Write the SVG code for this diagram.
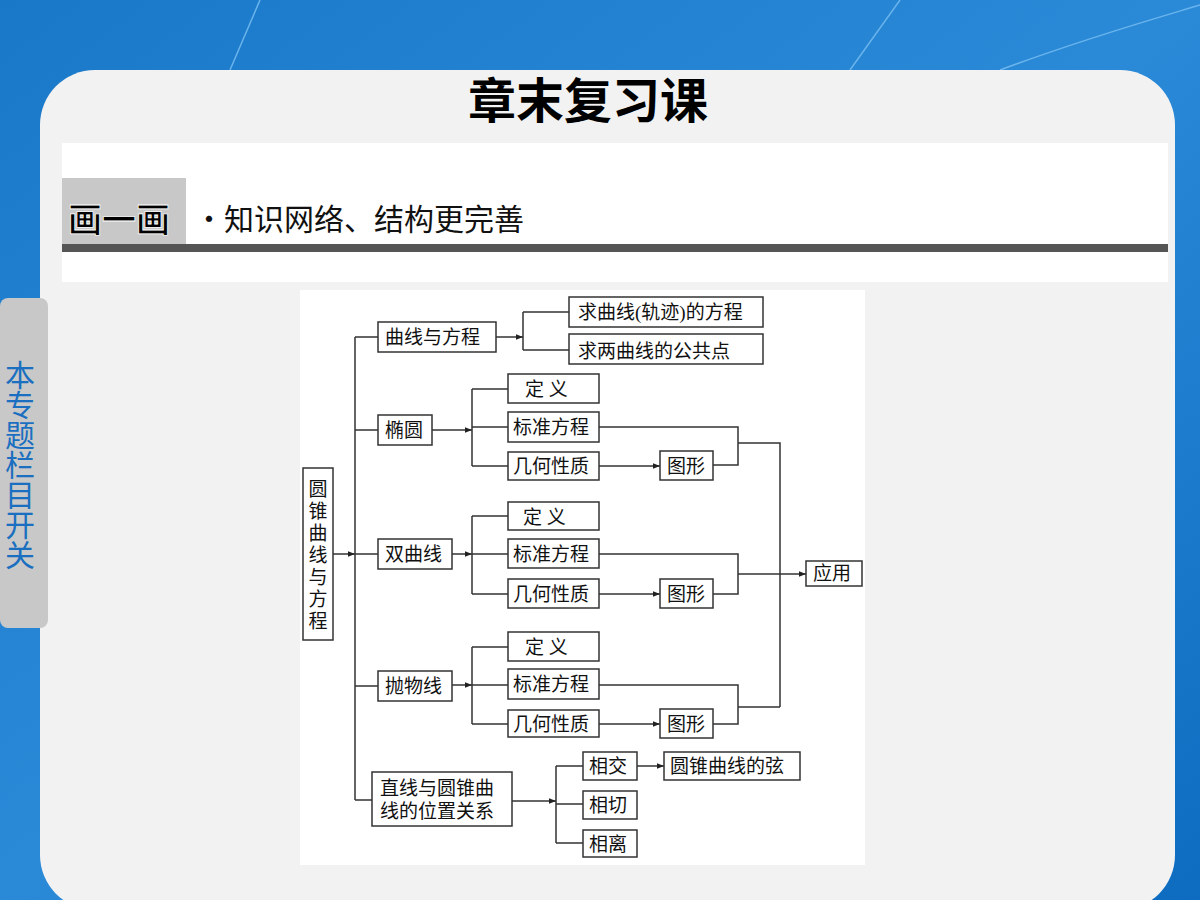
<svg xmlns="http://www.w3.org/2000/svg" width="1200" height="900" viewBox="0 0 1200 900">
<defs>
<linearGradient id="bg" x1="0" y1="0" x2="1" y2="1"><stop offset="0" stop-color="#1a78c8"/><stop offset="0.5" stop-color="#2a8ad8"/><stop offset="1" stop-color="#0e6cc0"/></linearGradient>
<marker id="ar" viewBox="0 0 10 10" refX="10" refY="5" markerWidth="7" markerHeight="7" orient="auto" markerUnits="userSpaceOnUse"><path d="M0,1 L10,5 L0,9 Z" fill="#222"/></marker>
</defs>
<style>
.b{fill:#fff;stroke:#333;stroke-width:1.5}
.t{font-family:"Liberation Serif","Noto Sans CJK SC",serif;font-size:19px;fill:#111}
.c{fill:none;stroke:#333;stroke-width:1.5}
.a{marker-end:url(#ar)}
</style>
<rect width="1200" height="900" fill="url(#bg)"/>
<path d="M260,0 L230,70 M900,0 L850,70 M1000,70 C1080,40 1150,20 1200,5" stroke="#6ab4ec" stroke-width="1.5" fill="none"/>
<rect x="40" y="70" width="1135" height="840" rx="55" fill="#f2f2f2"/>
<text x="588" y="118" text-anchor="middle" font-family="Noto Sans CJK SC,sans-serif" font-weight="bold" font-size="48" fill="#000">章末复习课</text>
<rect x="62" y="143" width="1106" height="139" fill="#fff"/>
<rect x="62" y="178" width="124" height="66" fill="#c8c8c8"/>
<text x="68" y="232" font-family="Noto Sans CJK SC,sans-serif" font-weight="bold" font-size="34" fill="#000" stroke="#fff" stroke-width="0.8">画一画</text>
<text x="194" y="230" font-family="Noto Sans CJK SC,sans-serif" font-size="30" fill="#111">·知识网络、结构更完善</text>
<rect x="62" y="244" width="1106" height="8" fill="#555"/>
<rect x="0" y="298" width="48" height="330" rx="8" fill="#c8c8c8"/>
<text x="20" y="360" writing-mode="tb" font-family="Noto Sans CJK SC,sans-serif" font-size="30" fill="#1a6fc0">本专题栏目开关</text>
<rect x="300" y="290" width="565" height="575" fill="#fff"/>

<g id="connectors">
<path class="c a" d="M333,554 H355"/>
<path class="c" d="M355,337 V800 M355,337 H378 M355,430 H378 M355,554 H378 M355,686 H378 M355,800 H372"/>
<path class="c a" d="M496,337 H523"/>
<path class="c" d="M523,312 V350 M523,312 H569 M523,350 H569"/>
<path class="c a" d="M432,430 H472"/>
<path class="c" d="M472,389 V466 M472,389 H508 M472,427 H508 M472,466 H508"/>
<path class="c a" d="M452,554 H472"/>
<path class="c" d="M472,516 V594 M472,516 H508 M472,554 H508 M472,594 H508"/>
<path class="c a" d="M452,685 H472"/>
<path class="c" d="M472,647 V724 M472,647 H508 M472,685 H508 M472,724 H508"/>
<path class="c a" d="M599,466 H660"/>
<path class="c a" d="M599,594 H660"/>
<path class="c a" d="M599,724 H660"/>
<path class="c" d="M599,427 H738 V465 H713 M738,443 H780 V707"/>
<path class="c" d="M599,554 H738 V594 H713"/>
<path class="c a" d="M738,574 H806"/>
<path class="c" d="M599,685 H738 V724 H713 M738,707 H780"/>
<path class="c a" d="M512,801 H556"/>
<path class="c" d="M556,766 V843 M556,766 H583 M556,804 H583 M556,843 H583"/>
<path class="c a" d="M637,766 H664"/>
</g>

<g id="n-root"><rect class="b" x="303" y="468" width="30" height="172"/><text class="t" text-anchor="middle" font-size="18"><tspan x="318" y="496">圆</tspan><tspan x="318" y="518">锥</tspan><tspan x="318" y="540">曲</tspan><tspan x="318" y="562">线</tspan><tspan x="318" y="584">与</tspan><tspan x="318" y="606">方</tspan><tspan x="318" y="628">程</tspan></text></g>
<g id="n-qxyfc"><rect class="b" x="378" y="322" width="118" height="30"/><text class="t" x="385" y="344">曲线与方程</text></g>
<g id="n-qgj"><rect class="b" x="569" y="297" width="194" height="30"/><text class="t" x="578" y="319">求曲线(轨迹)的方程</text></g>
<g id="n-ggd"><rect class="b" x="569" y="334" width="194" height="30"/><text class="t" x="578" y="358">求两曲线的公共点</text></g>
<g id="n-ty"><rect class="b" x="378" y="415" width="54" height="30"/><text class="t" x="385" y="437">椭圆</text></g>
<g id="n-ty-dy"><rect class="b" x="508" y="374" width="91" height="29"/><text class="t" x="525" y="396">定 义</text></g>
<g id="n-ty-bz"><rect class="b" x="508" y="412" width="91" height="30"/><text class="t" x="513" y="434">标准方程</text></g>
<g id="n-ty-jh"><rect class="b" x="508" y="452" width="91" height="28"/><text class="t" x="513" y="473">几何性质</text></g>
<g id="n-ty-tx"><rect class="b" x="660" y="451" width="53" height="29"/><text class="t" x="667" y="473">图形</text></g>
<g id="n-sqx"><rect class="b" x="378" y="539" width="74" height="30"/><text class="t" x="385" y="561">双曲线</text></g>
<g id="n-sqx-dy"><rect class="b" x="508" y="502" width="91" height="28"/><text class="t" x="523" y="524">定 义</text></g>
<g id="n-sqx-bz"><rect class="b" x="508" y="539" width="91" height="29"/><text class="t" x="513" y="561">标准方程</text></g>
<g id="n-sqx-jh"><rect class="b" x="508" y="579" width="91" height="29"/><text class="t" x="513" y="601">几何性质</text></g>
<g id="n-sqx-tx"><rect class="b" x="660" y="579" width="53" height="29"/><text class="t" x="667" y="601">图形</text></g>
<g id="n-pwx"><rect class="b" x="378" y="671" width="74" height="30"/><text class="t" x="385" y="693">抛物线</text></g>
<g id="n-pwx-dy"><rect class="b" x="508" y="632" width="91" height="29"/><text class="t" x="525" y="654">定 义</text></g>
<g id="n-pwx-bz"><rect class="b" x="508" y="669" width="91" height="30"/><text class="t" x="513" y="691">标准方程</text></g>
<g id="n-pwx-jh"><rect class="b" x="508" y="710" width="91" height="27"/><text class="t" x="513" y="731">几何性质</text></g>
<g id="n-pwx-tx"><rect class="b" x="660" y="709" width="53" height="29"/><text class="t" x="667" y="731">图形</text></g>
<g id="n-zx"><rect class="b" x="372" y="772" width="140" height="54"/><text class="t"><tspan x="380" y="795">直线与圆锥曲</tspan><tspan x="380" y="818">线的位置关系</tspan></text></g>
<g id="n-xj"><rect class="b" x="583" y="752" width="54" height="28"/><text class="t" x="589" y="773">相交</text></g>
<g id="n-xq"><rect class="b" x="583" y="791" width="54" height="28"/><text class="t" x="589" y="812">相切</text></g>
<g id="n-xl"><rect class="b" x="583" y="830" width="54" height="27"/><text class="t" x="589" y="851">相离</text></g>
<g id="n-xian"><rect class="b" x="664" y="752" width="136" height="28"/><text class="t" x="670" y="773">圆锥曲线的弦</text></g>
<g id="n-yy"><rect class="b" x="806" y="561" width="56" height="25"/><text class="t" x="813" y="580">应用</text></g>
</svg>
